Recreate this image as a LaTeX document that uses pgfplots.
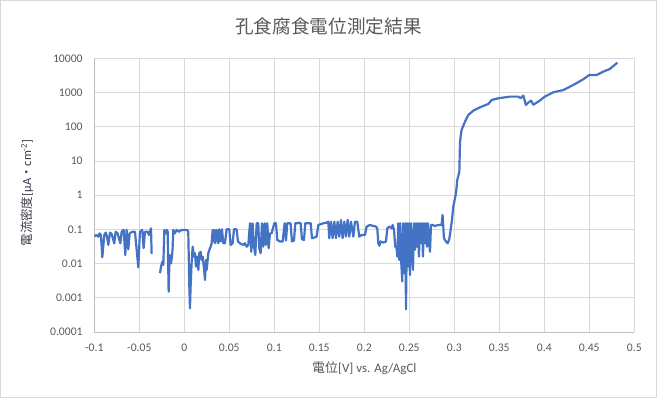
\documentclass[border=0pt]{standalone}
\usepackage{pgfplots}
\pgfplotsset{compat=1.18}
\usepackage{pgfplotstable}
\usepackage{fontspec}
\setmainfont{Carlito}
\newfontfamily\jp{Noto Sans CJK JP}
\definecolor{txt}{HTML}{595959}
\definecolor{ylab}{HTML}{3A3A46}
\definecolor{gridc}{HTML}{D9D9D9}
\definecolor{axisc}{HTML}{BFBFBF}
\definecolor{series}{HTML}{4472C4}

\pgfplotstableread{
x y
-0.1000 0.062
-0.0978 0.068
-0.0956 0.061
-0.0941 0.076
-0.0926 0.068
-0.0911 0.0152
-0.0889 0.068
-0.0874 0.080
-0.0863 0.068
-0.0844 0.035
-0.0826 0.080
-0.0807 0.073
-0.0778 0.039
-0.0763 0.085
-0.0741 0.076
-0.0711 0.039
-0.0696 0.085
-0.0674 0.096
-0.0656 0.0178
-0.0641 0.096
-0.0622 0.026
-0.0607 0.076
-0.0578 0.085
-0.0548 0.085
-0.0511 0.0077
-0.0493 0.085
-0.0467 0.096
-0.0452 0.028
-0.0437 0.085
-0.0407 0.085
-0.0393 0.068
-0.0370 0.107
-0.0363 0.019
-0.0320 nan
-0.0270 0.0052
-0.0259 0.0081
-0.0244 0.0113
-0.0233 0.0091
-0.0222 0.096
-0.0207 0.076
-0.0193 0.096
-0.0185 0.085
-0.0174 0.0015
-0.0163 0.0178
-0.0148 0.0101
-0.0137 0.0159
-0.0130 0.028
-0.0122 0.096
-0.0104 0.076
-0.0085 0.096
-0.0059 0.085
-0.0030 0.096
0.0026 0.096
0.0033 0.096
0.0044 0.085
0.0056 0.0021
0.0063 0.00049
0.0070 0.0021
0.0081 0.0101
0.0093 0.031
0.0107 0.0159
0.0119 0.020
0.0130 0.0081
0.0144 0.0159
0.0156 0.0065
0.0167 0.020
0.0181 0.022
0.0193 0.0127
0.0204 0.0159
0.0219 0.0072
0.0230 0.0033
0.0241 0.0127
0.0248 0.0065
0.0267 0.020
0.0278 0.025
0.0293 0.031
0.0304 0.039
0.0315 0.096
0.0322 0.044
0.0333 0.096
0.0344 0.039
0.0359 0.096
0.0378 0.039
0.0389 0.100
0.0404 0.044
0.0419 0.100
0.0433 0.039
0.0452 0.039
0.0470 0.100
0.0500 0.100
0.0515 0.035
0.0537 0.039
0.0552 0.100
0.0581 0.100
0.0596 0.044
0.0619 0.039
0.0637 0.037
0.0656 0.035
0.0674 0.039
0.0693 0.031
0.0711 0.035
0.0730 0.150
0.0744 0.022
0.0759 0.150
0.0774 0.031
0.0789 0.0178
0.0804 0.150
0.0822 0.150
0.0833 0.028
0.0848 0.020
0.0863 0.150
0.0878 0.031
0.0893 0.150
0.0907 0.035
0.0922 0.150
0.0937 0.028
0.0952 0.076
0.0970 0.076
0.1000 0.150
0.1019 0.150
0.1033 0.049
0.1063 0.044
0.1093 0.044
0.1115 0.150
0.1130 0.047
0.1144 0.150
0.1181 0.150
0.1196 0.044
0.1219 0.047
0.1233 0.150
0.1256 0.150
0.1270 0.156
0.1293 0.150
0.1307 0.051
0.1330 0.049
0.1344 0.150
0.1389 0.150
0.1404 0.150
0.1419 0.055
0.1470 0.061
0.1489 0.134
0.1544 0.150
0.1581 0.156
0.1600 0.167
0.1611 0.055
0.1630 0.167
0.1648 0.055
0.1667 0.167
0.1685 0.055
0.1704 0.167
0.1722 0.061
0.1741 0.187
0.1759 0.055
0.1778 0.167
0.1796 0.061
0.1815 0.187
0.1833 0.061
0.1852 0.167
0.1878 0.061
0.1896 0.167
0.1922 0.167
0.1944 0.061
0.1970 0.068
0.2007 0.068
0.2026 0.120
0.2063 0.134
0.2100 0.125
0.2130 0.120
0.2144 0.107
0.2156 0.039
0.2167 0.033
0.2181 0.044
0.2211 0.041
0.2241 0.044
0.2256 0.107
0.2278 0.120
0.2304 0.107
0.2315 0.134
0.2330 0.096
0.2344 0.031
0.2359 0.028
0.2367 0.0159
0.2378 0.150
0.2389 0.0127
0.2400 0.150
0.2411 0.0101
0.2422 0.0030
0.2433 0.150
0.2444 0.0052
0.2456 0.150
0.2463 0.00046
0.2474 0.150
0.2485 0.0081
0.2496 0.150
0.2507 0.0046
0.2519 0.150
0.2530 0.020
0.2541 0.0065
0.2552 0.150
0.2563 0.025
0.2574 0.150
0.2585 0.031
0.2596 0.150
0.2607 0.0159
0.2619 0.150
0.2630 0.039
0.2641 0.150
0.2652 0.0159
0.2663 0.150
0.2674 0.039
0.2685 0.150
0.2696 0.031
0.2707 0.150
0.2719 0.049
0.2730 0.022
0.2741 0.134
0.2759 0.134
0.2785 0.125
0.2822 0.134
0.2859 0.134
0.2870 0.262
0.2885 0.055
0.2907 0.044
0.2926 0.039
0.2944 0.051
0.2959 0.096
0.2974 0.187
0.2989 0.46
0.3019 1.13
0.3033 2.77
0.3056 4.85
0.3063 32.7
0.3070 51
0.3081 80
0.3119 141
0.3156 220
0.3211 295
0.3285 369
0.3378 462
0.3415 605
0.3489 677
0.3619 757
0.3711 757
0.3737 680
0.3767 810
0.3796 431
0.3822 506
0.3852 578
0.3878 440
0.3933 540
0.4007 760
0.4100 1014
0.4211 1180
0.4322 1660
0.4433 2440
0.4500 3250
0.4581 3250
0.4656 4080
0.4730 4900
0.4811 7450
}\datatable

\begin{document}
\begin{tikzpicture}
\useasboundingbox (0bp,0bp) rectangle (657bp,398bp);
\draw[color=gridc, line width=0.75bp] (0.5bp,0.5bp) rectangle (656.5bp,397.5bp);
\begin{axis}[
  at={(94.3bp,66.1bp)}, anchor=south west,
  scale only axis, width=540bp, height=273.6bp,
  xmin=-0.1, xmax=0.5,
  ymode=log, ymin=0.0001, ymax=10000,
  xtick={-0.1,-0.05,0,0.05,0.1,0.15,0.2,0.25,0.3,0.35,0.4,0.45,0.5},
  xticklabels={-0.1,-0.05,0,0.05,0.1,0.15,0.2,0.25,0.3,0.35,0.4,0.45,0.5},
  ytick={0.0001,0.001,0.01,0.1,1,10,100,1000,10000},
  yticklabels={0.0001,0.001,0.01,0.1,1,10,100,1000,10000},
  yminorticks=false,
  grid=major,
  major grid style={color=gridc, line width=0.75bp},
  axis x line*=bottom, axis y line*=left,
  axis line style={color=axisc, line width=0.75bp, -},
  major tick length=0pt, minor tick length=0pt,
  tick label style={font=\fontsize{11.7}{12}\selectfont, text=txt},
  yticklabel style={anchor=east, inner sep=0pt, xshift=-11.5bp},
  xticklabel style={anchor=north, inner sep=0pt, yshift=-12bp},
  unbounded coords=jump,
]
\addplot[color=series, line width=2.2bp, line join=round, mark=none] table[x=x, y=y] {\datatable};
\end{axis}
\node[text=txt, font=\jp\fontsize{18.7}{20}\selectfont] at (328.5bp,371.3bp) {孔食腐食電位測定結果};
\node[text=txt, font=\fontsize{13}{14}\selectfont] at (364.3bp,29.7bp) {{\jp 電位}[V] vs. Ag/AgCl};
\node[text=ylab, rotate=90, font=\fontsize{12.5}{14}\selectfont] at (27bp,205bp) {{\jp 電流密度}[μA{\jp ・}cm\textsuperscript{-2}]};
\end{tikzpicture}
\end{document}
